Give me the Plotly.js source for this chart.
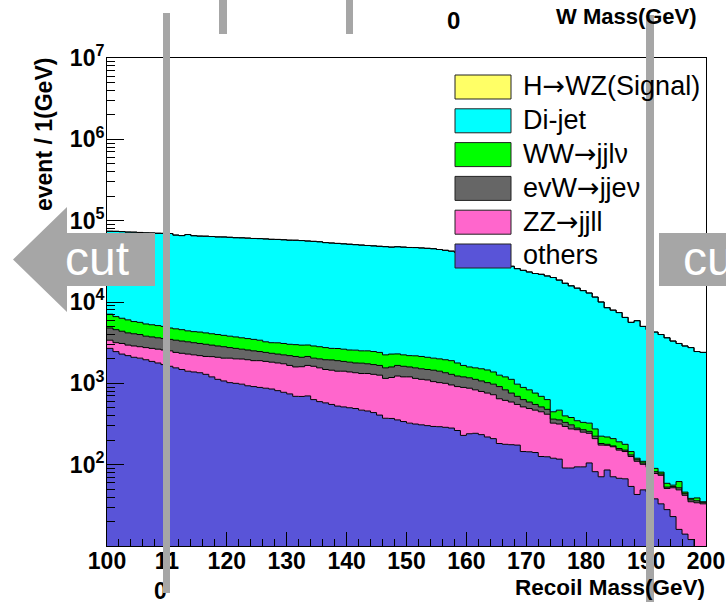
<!DOCTYPE html>
<html>
<head>
<meta charset="utf-8">
<script src="https://cdn.plot.ly/plotly-3.0.1.min.js"></script>
<style>
html, body { margin: 0; padding: 0; background: #ffffff; }
#chart { width: 726px; height: 602px; }
</style>
</head>
<body>
<div id="chart"></div>
<script>
// ---------------- DATA (1 GeV bins, 100..200 GeV) ----------------
// Stack heights (cumulative top of each layer), events / 1 GeV
const topOthers = [
 2690, 2455, 2290, 2190, 2090, 2040, 1950, 1860, 1780, 1700,
 1620, 1550, 1480, 1410, 1380, 1350, 1290, 1200, 1120, 1070,
 1020, 1000, 977, 933, 912, 891, 871, 851, 813, 776,
 741, 692, 690, 700, 631, 596, 575, 550, 525, 513,
 501, 490, 468, 457, 437, 407, 372, 370, 355, 339,
 324, 316, 309, 302, 295, 293, 288, 282, 263, 229,
 240, 243, 234, 219, 209, 182, 178, 176, 174, 145,
 144, 141, 126, 125, 120, 117, 91, 91, 94, 94,
 105, 82, 71, 86, 71, 68, 67, 54, 43, 49,
 46, 38, 33, 28, 23, 16, 14, 12, 9, 8
];
const topZZ = [
 3390, 3160, 3090, 2950, 2880, 2820, 2750, 2690, 2630, 2570,
 2510, 2400, 2340, 2290, 2240, 2190, 2140, 2130, 2090, 2040,
 2040, 2000, 1990, 1950, 1900, 1900, 1860, 1820, 1780, 1740,
 1660, 1590, 1600, 1660, 1620, 1550, 1480, 1450, 1410, 1410,
 1380, 1350, 1320, 1320, 1290, 1260, 1150, 1180, 1230, 1200,
 1200, 1150, 1120, 1100, 1050, 1020, 1000, 955, 912, 891,
 871, 832, 794, 759, 724, 646, 617, 589, 550, 513,
 490, 468, 447, 417, 324, 316, 295, 275, 269, 251,
 243, 209, 174, 173, 166, 151, 145, 126, 110, 101,
 93, 78, 74, 51, 52, 49, 42, 35, 34, 33
];
const topEvW = [
 4790, 4570, 4370, 4170, 4070, 3980, 3800, 3720, 3630, 3550,
 3470, 3390, 3310, 3240, 3160, 3090, 3020, 2950, 2880, 2820,
 2750, 2690, 2630, 2570, 2510, 2460, 2400, 2340, 2290, 2240,
 2190, 2140, 2090, 2140, 2040, 2000, 1950, 1940, 1900, 1860,
 1820, 1780, 1770, 1740, 1700, 1660, 1550, 1590, 1660, 1620,
 1590, 1550, 1510, 1480, 1450, 1410, 1350, 1290, 1230, 1200,
 1170, 1120, 1070, 1020, 977, 912, 832, 759, 692, 631,
 589, 550, 513, 479, 363, 355, 331, 309, 282, 269,
 257, 224, 182, 178, 170, 158, 151, 132, 115, 105,
 98, 82, 77, 53, 54, 52, 44, 37, 36, 34.5
];
const topWW = [
 7080, 6610, 6310, 6030, 5750, 5620, 5370, 5250, 5130, 5010,
 4790, 4680, 4570, 4420, 4320, 4270, 4170, 4070, 3980, 3890,
 3800, 3720, 3630, 3550, 3470, 3390, 3240, 3160, 3150, 3090,
 3020, 2990, 2950, 2960, 2880, 2820, 2750, 2690, 2680, 2630,
 2570, 2560, 2510, 2510, 2460, 2400, 2240, 2290, 2300, 2240,
 2190, 2180, 2140, 2090, 2040, 2000, 1950, 1900, 1780, 1660,
 1590, 1550, 1510, 1460, 1380, 1260, 1200, 1120, 977, 891,
 832, 759, 692, 631, 447, 468, 398, 380, 347, 331,
 324, 275, 224, 219, 209, 191, 178, 145, 120, 110,
 100, 90, 81, 59, 56, 62, 46, 38.5, 39, 35
];
const topDijet = [
 74100, 73900, 73300, 72400, 72200, 71600, 70800, 70600, 70000, 69800,
 69500, 66500, 65500, 67500, 65300, 64600, 64400, 63800, 63100, 63000,
 62400, 61700, 61500, 61000, 60300, 60100, 59600, 58900, 58700, 58200,
 57500, 57400, 56900, 56200, 55600, 55000, 53700, 53100, 52500, 51900,
 51300, 50700, 50100, 49500, 49000, 48400, 47900, 47300, 47800, 47300,
 46800, 46700, 46200, 45700, 45200, 44200, 43200, 42200, 40700, 39800,
 38000, 36300, 34700, 33100, 30900, 28800, 28200, 27500, 25700, 24500,
 23400, 22400, 21900, 20900, 20000, 18600, 17000, 15800, 14800, 13800,
 12900, 11500, 10000, 8510, 7940, 7410, 6460, 5620, 5890, 5010,
 4570, 4270, 3980, 3630, 3310, 3090, 2880, 2750, 2460, 2400
];
// Signal contribution (too small to be visible on top of the stack)
const signal = [
 20, 22, 23, 25, 27, 29, 31, 34, 37, 40,
 44, 48, 53, 58, 64, 70, 77, 84, 92, 100,
 108, 116, 123, 129, 134, 137, 138, 137, 134, 129,
 123, 116, 108, 100, 92, 84, 77, 70, 64, 58,
 53, 48, 44, 40, 37, 34, 31, 29, 27, 25,
 23, 22, 21, 20, 19, 18, 17, 16, 15, 14,
 13, 12, 11, 10, 9, 8, 8, 7, 7, 6,
 6, 5, 5, 5, 4, 4, 4, 3, 3, 3,
 3, 2, 2, 2, 2, 2, 2, 1, 1, 1,
 1, 1, 1, 1, 1, 1, 1, 1, 1, 1
];
const ARROW = '<span style="font-family:DejaVu Sans">\u2192</span>';
const seriesNames = ['H\u2192WZ(Signal)', 'Di-jet', 'WW\u2192jjl\u03bd', 'evW\u2192jje\u03bd', 'ZZ\u2192jjll', 'others'];
const seriesColors = ['#ffff66', '#00ffff', '#00ff00', '#666666', '#ff66cc', '#5954d8'];
const xTickVals = [100, 110, 120, 130, 140, 150, 160, 170, 180, 190, 200];
const xTickText = ['100', '11<br>0\u00a0\u00a0', '120', '130', '140', '150', '160', '170', '180', '190', '200'];
const yTickVals = [1e2, 1e3, 1e4, 1e5, 1e6, 1e7];
const yTickText = ['10<sup>2</sup>', '10<sup>3</sup>', '10<sup>4</sup>', '10<sup>5</sup>', '10<sup>6</sup>', '10<sup>7</sup>'];

// ---------------- per-process values from stack heights ----------------
const others = topOthers.slice();
const zz = topZZ.map((v, i) => v - topOthers[i]);
const evw = topEvW.map((v, i) => v - topZZ[i]);
const ww = topWW.map((v, i) => v - topEvW[i]);
const dijet = topDijet.map((v, i) => v - topWW[i]);

const edges = [];
for (let e = 100; e <= 200; e++) edges.push(e);
const closeBin = arr => arr.concat([arr[arr.length - 1]]);

const stackOrder = [
  {name: seriesNames[5], y: others, color: seriesColors[5]},
  {name: seriesNames[4], y: zz, color: seriesColors[4]},
  {name: seriesNames[3], y: evw, color: seriesColors[3]},
  {name: seriesNames[2], y: ww, color: seriesColors[2]},
  {name: seriesNames[1], y: dijet, color: seriesColors[1]},
  {name: seriesNames[0], y: signal, color: seriesColors[0]}
];
const traces = stackOrder.map(s => ({
  type: 'scatter', mode: 'lines', name: s.name,
  x: edges, y: closeBin(s.y),
  stackgroup: 'stack',
  line: {color: '#000000', width: 1, shape: 'hv'},
  fillcolor: s.color,
  showlegend: false
}));

// ---------------- geometry helpers (pixel -> paper) ----------------
const L = 107, R = 20, T = 58, B = 56, W = 726, H = 602;
const PW = W - L - R, PH = H - T - B;
const X = px => (px - L) / PW;
const Y = py => (H - B - py) / PH;

const FONT = 'Liberation Sans, Arial, Helvetica, sans-serif';
const GRAY = '#a6a6a6';

const minorY = [];
for (let d = 1; d <= 6; d++) for (let k = 2; k <= 9; k++) minorY.push(k * Math.pow(10, d));

const shapes = [];
const annotations = [];

// Legend (boxes + labels)
for (let i = 0; i < seriesNames.length; i++) {
  const cy = 87 + i * 33.8;
  shapes.push({type: 'rect', xref: 'paper', yref: 'paper', layer: 'above',
    x0: X(455), x1: X(511), y0: Y(cy - 12), y1: Y(cy + 12),
    fillcolor: seriesColors[i], line: {color: '#222222', width: 1}});
  annotations.push({xref: 'paper', yref: 'paper', x: X(521), y: Y(cy - 1),
    xanchor: 'left', yanchor: 'middle', showarrow: false,
    text: seriesNames[i].replace('\u2192', ARROW),
    font: {family: FONT, size: 27, color: '#000000'}});
}

// "cut" arrows
shapes.push({type: 'path', xref: 'paper', yref: 'paper', layer: 'above',
  path: `M ${X(13)} ${Y(259.5)} L ${X(67)} ${Y(207)} L ${X(67)} ${Y(233)} L ${X(155)} ${Y(233)} L ${X(155)} ${Y(286)} L ${X(67)} ${Y(286)} L ${X(67)} ${Y(312)} Z`,
  fillcolor: GRAY, line: {width: 0}});
shapes.push({type: 'rect', xref: 'paper', yref: 'paper', layer: 'above',
  x0: X(659), x1: X(760), y0: Y(286), y1: Y(233), fillcolor: GRAY, line: {width: 0}});
annotations.push({xref: 'paper', yref: 'paper', x: X(97), y: Y(258), xanchor: 'center', yanchor: 'middle',
  showarrow: false, text: 'cut', font: {family: FONT, size: 48, color: '#ffffff'}});
annotations.push({xref: 'paper', yref: 'paper', x: X(681), y: Y(258), xanchor: 'left', yanchor: 'middle',
  showarrow: false, text: 'cut', font: {family: FONT, size: 48, color: '#ffffff'}});

// Axis titles and stray texts
annotations.push({xref: 'paper', yref: 'paper', x: X(44), y: Y(135), xanchor: 'center', yanchor: 'middle',
  textangle: -90, showarrow: false, text: 'event / 1(GeV)',
  font: {family: FONT, size: 23, weight: 'bold', color: '#000000'}});
annotations.push({xref: 'paper', yref: 'paper', x: X(707), y: Y(587), xanchor: 'right', yanchor: 'middle',
  showarrow: false, text: 'Recoil Mass(GeV)',
  font: {family: FONT, size: 22.5, weight: 'bold', color: '#000000'}});
annotations.push({xref: 'paper', yref: 'paper', x: X(626), y: Y(17), xanchor: 'center', yanchor: 'middle',
  showarrow: false, text: 'W Mass(GeV)',
  font: {family: FONT, size: 22, weight: 'bold', color: '#000000'}});
annotations.push({xref: 'paper', yref: 'paper', x: X(453), y: Y(20), xanchor: 'center', yanchor: 'middle',
  showarrow: false, text: '0',
  font: {family: FONT, size: 24, weight: 'bold', color: '#000000'}});

// Gray overlay bars
function grayBar(x0, x1, y0, y1) {
  shapes.push({type: 'rect', xref: 'paper', yref: 'paper', layer: 'above',
    x0: X(x0), x1: X(x1), y0: Y(y1), y1: Y(y0), fillcolor: GRAY, line: {width: 0}});
}
grayBar(163, 170, 13, 593);
grayBar(646, 654, 15, 602);
grayBar(219, 227, 0, 34);
grayBar(346, 353, 0, 34);

const layout = {
  width: W, height: H,
  margin: {l: L, r: R, t: T, b: B, pad: 0},
  paper_bgcolor: '#ffffff', plot_bgcolor: '#ffffff',
  showlegend: false,
  font: {family: FONT, color: '#000000'},
  xaxis: {
    range: [100, 200], tickmode: 'array', tickvals: xTickVals, ticktext: xTickText,
    ticks: 'inside', ticklen: 14, tickwidth: 1, tickcolor: '#000000',
    ticklabelstandoff: -6,
    minor: {dtick: 2, tick0: 100, ticks: 'inside', ticklen: 7, tickwidth: 1, tickcolor: '#000000', showgrid: false},
    showline: true, linecolor: '#000000', linewidth: 1, mirror: true,
    showgrid: false, zeroline: false,
    tickfont: {family: FONT, size: 23, weight: 'bold', color: '#000000'}
  },
  yaxis: {
    type: 'log', range: [1, 7], tickmode: 'array', tickvals: yTickVals, ticktext: yTickText,
    ticks: 'inside', ticklen: 17, tickwidth: 1, tickcolor: '#000000',
    ticklabelstandoff: -3,
    minor: {tickmode: 'array', tickvals: minorY, ticks: 'inside', ticklen: 8, tickwidth: 1, tickcolor: '#000000', showgrid: false},
    showline: true, linecolor: '#000000', linewidth: 1, mirror: true,
    showgrid: false, zeroline: false,
    tickfont: {family: FONT, size: 23, weight: 'bold', color: '#000000'}
  },
  shapes: shapes,
  annotations: annotations
};

Plotly.newPlot('chart', traces, layout, {staticPlot: true, displayModeBar: false});
</script>
</body>
</html>
